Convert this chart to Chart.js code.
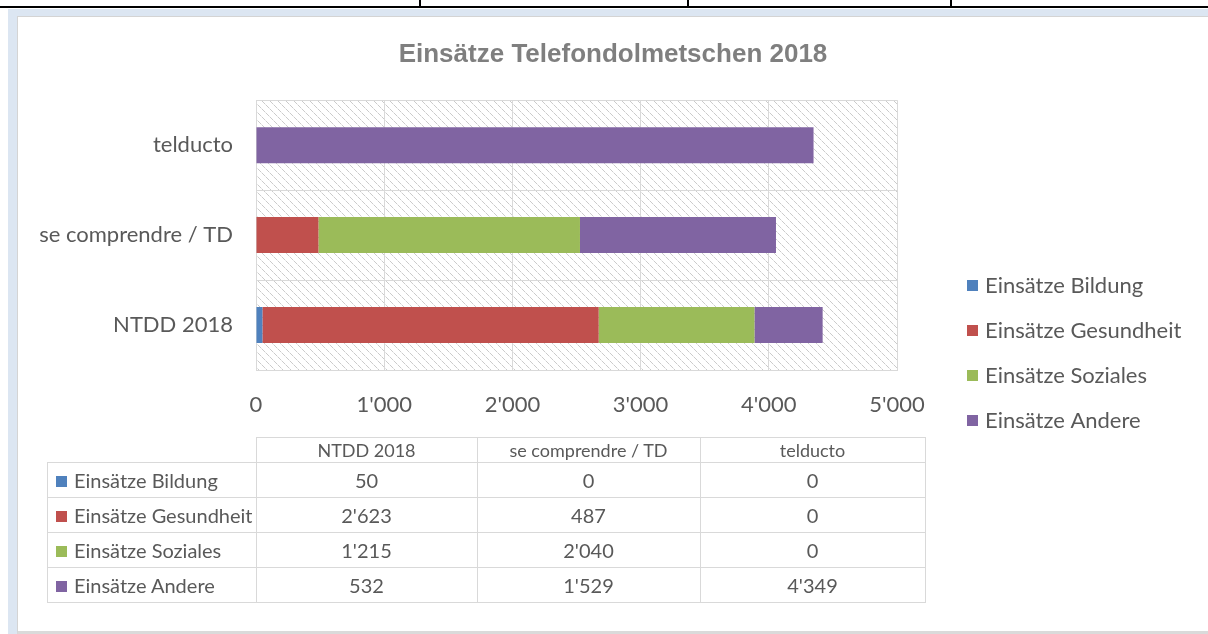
<!DOCTYPE html>
<html>
<head>
<meta charset="utf-8">
<script src="https://cdn.jsdelivr.net/npm/chart.js@4.4.0/dist/chart.umd.min.js"></script>
<style>
html, body { margin: 0; padding: 0; width: 1208px; height: 634px; overflow: hidden; background: #fff; position: relative; font-family: Lato, "Noto Sans", sans-serif; }
#topline { position: absolute; left: 0; top: 6px; width: 1208px; height: 2px; background: #000; }
.vtick { position: absolute; top: 0; width: 2px; height: 7px; background: #000; }
#frame { position: absolute; left: 8px; top: 9px; width: 1200px; height: 625px; background: #dce6f2; }
#inner { position: absolute; left: 17px; top: 16px; width: 1191px; height: 614px; background: #fff; border-left: 1px solid #d4d4d4; border-top: 1px solid #d4d4d4; border-bottom: 3px solid #dadada; }
#chart { position: absolute; left: 18px; top: 17px; }
#datatable { position: absolute; left: 47px; top: 437px; border-collapse: collapse; color: #595959; font-size: 20px; }
#datatable td { border: 1px solid #d9d9d9; text-align: center; padding: 0; }
#datatable tr.head td { height: 24px; font-size: 18px; }
#datatable tr.row td { height: 34px; }
#datatable td.name { text-align: left; padding-left: 8px; white-space: nowrap; }
#datatable td.blank { border: none; }
.key { display: inline-block; width: 11px; height: 11px; margin-right: 7px; vertical-align: 1px; }
</style>
</head>
<body>
<div id="topline"></div>
<div class="vtick" style="left:419px"></div>
<div class="vtick" style="left:687px"></div>
<div class="vtick" style="left:950px"></div>
<div id="frame"></div>
<div id="inner"></div>
<canvas id="chart" width="1190" height="614"></canvas>
<table id="datatable"></table>
<script>
// chart data
var categories = ['NTDD 2018', 'se comprendre / TD', 'telducto'];
var seriesNames = ['Einsätze Bildung', 'Einsätze Gesundheit', 'Einsätze Soziales', 'Einsätze Andere'];
var bildung = [50, 0, 0];
var gesundheit = [2623, 487, 0];
var soziales = [1215, 2040, 0];
var andere = [532, 1529, 4349];
var seriesColors = ['#4f81bd', '#c0504d', '#9bbb59', '#8064a2'];
var xTicks = [0, 1000, 2000, 3000, 4000, 5000];

var textColor = '#595959';
var gridColor = '#d9d9d9';

// thousands separator with an apostrophe
function fmt(v) {
    return String(v).replace(/\B(?=(\d{3})+(?!\d))/g, "'");
}

// diagonal hatch used as plot background
function makeHatch() {
    var c = document.createElement('canvas');
    c.width = 8; c.height = 8;
    var g = c.getContext('2d');
    for (var i = 0; i < 8; i++) {
        g.fillStyle = (i % 4 === 3) ? 'rgba(205,205,205,0.5)' : 'rgba(200,200,200,0.95)';
        g.fillRect(i, i, 1, 1);
    }
    return g.createPattern(c, 'repeat');
}

var hatchPlugin = {
    id: 'hatch',
    beforeDraw: function(chart) {
        var a = chart.chartArea, ctx = chart.ctx;
        ctx.save();
        ctx.fillStyle = makeHatch();
        ctx.fillRect(a.left, a.top, a.right - a.left, a.bottom - a.top);
        ctx.restore();
    }
};

// right hand layout box that holds the legend, so the title stays centred on the whole chart
var sideLegend = {
    id: 'sideLegend',
    beforeInit: function(chart) {
        var box = {
            position: 'right',
            weight: 0,
            fullSize: false,
            options: {},
            isHorizontal: function() { return false; },
            update: function(maxW, maxH) { this.width = 311; this.height = maxH; },
            draw: function() {
                var ctx = chart.ctx;
                var left = (this.left !== undefined) ? this.left : chart.chartArea.right;
                var x = left + 70, y0 = 269, gap = 45;
                ctx.save();
                ctx.font = '22px Lato, "Noto Sans", sans-serif';
                ctx.textBaseline = 'middle';
                chart.data.datasets.forEach(function(ds, i) {
                    var y = y0 + i * gap;
                    ctx.fillStyle = ds.backgroundColor;
                    ctx.fillRect(x, y - 6, 11, 11);
                    ctx.fillStyle = textColor;
                    ctx.fillText(ds.label, x + 18, y);
                });
                ctx.restore();
            }
        };
        Chart.layouts.addBox(chart, box);
    }
};

var seriesData = [bildung, gesundheit, soziales, andere];
var datasets = seriesNames.map(function(name, i) {
    return {
        label: name,
        data: seriesData[i],
        backgroundColor: seriesColors[i],
        borderWidth: 0,
        barPercentage: 0.4,
        categoryPercentage: 1.0
    };
});

Chart.defaults.font.family = 'Lato, "Noto Sans", sans-serif';
Chart.defaults.color = textColor;

new Chart(document.getElementById('chart'), {
    type: 'bar',
    data: { labels: categories, datasets: datasets },
    options: {
        indexAxis: 'y',
        responsive: false,
        animation: false,
        devicePixelRatio: 1,
        layout: { padding: { left: 0, right: 0, top: 8, bottom: 201 } },
        plugins: {
            legend: { display: false },
            tooltip: { enabled: false },
            title: {
                display: true,
                text: 'Einsätze Telefondolmetschen 2018',
                color: '#7f7f7f',
                font: { size: 26, weight: 'bold', family: '"Liberation Sans", Arial, sans-serif' },
                padding: { top: 14, bottom: 30 }
            }
        },
        scales: {
            x: {
                stacked: true,
                min: 0,
                max: 5000,
                afterBuildTicks: function(s) { s.ticks = xTicks.map(function(v) { return { value: v }; }); },
                afterFit: function(s) { s.height = 60; },
                grid: { color: gridColor, lineWidth: 1, drawTicks: false },
                border: { color: gridColor },
                ticks: {
                    padding: 22,
                    font: { size: 22 },
                    color: textColor,
                    callback: function(v) { return fmt(v); }
                }
            },
            y: {
                stacked: true,
                reverse: true,
                afterFit: function(s) { s.width = 238; },
                grid: { color: gridColor, lineWidth: 1, drawTicks: false, offset: true },
                border: { color: gridColor },
                ticks: { padding: 23, font: { size: 22 }, color: textColor }
            }
        }
    },
    plugins: [hatchPlugin, sideLegend]
});

// data table below the plot
var colWidths = [208, 220, 222, 224];
var tbl = document.getElementById('datatable');
var html = '<tr class="head"><td class="blank" style="width:' + colWidths[0] + 'px"></td>';
categories.forEach(function(c, j) {
    html += '<td style="width:' + colWidths[j + 1] + 'px">' + c + '</td>';
});
html += '</tr>';
seriesNames.forEach(function(name, i) {
    html += '<tr class="row"><td class="name"><span class="key" style="background:' + seriesColors[i] + '"></span>' + name + '</td>';
    seriesData[i].forEach(function(v) { html += '<td>' + fmt(v) + '</td>'; });
    html += '</tr>';
});
tbl.innerHTML = html;
</script>
</body>
</html>
